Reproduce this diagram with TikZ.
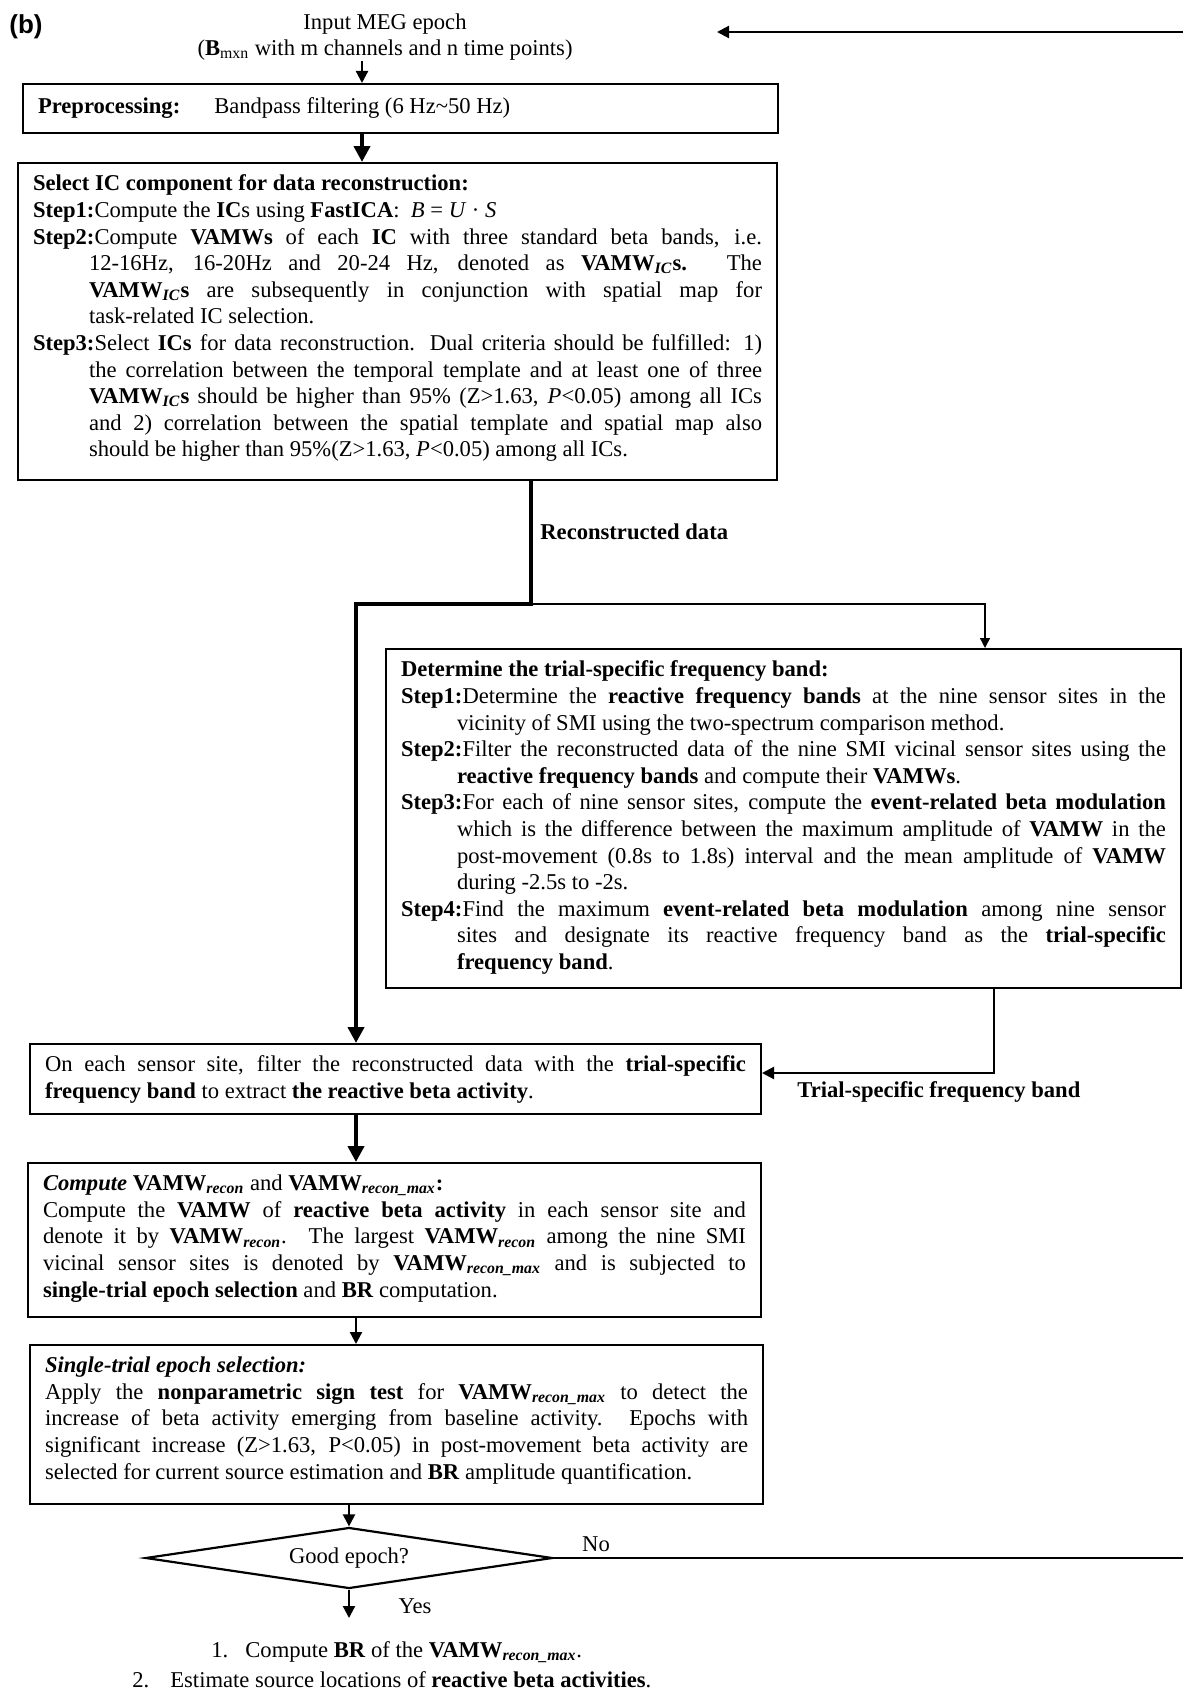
\documentclass[tikz,border=0pt]{standalone}
\usepackage{fontspec}
\setmainfont{Liberation Serif}
\newfontfamily\panelfont{Liberation Sans}
\usetikzlibrary{arrows.meta,shapes.geometric}

\newcommand{\vsub}[1]{\textsubscript{\textit{#1}}}
\newcommand{\stepname}[1]{\hangindent=28pt\hangafter=1 \textbf{Step#1:}}

\begin{document}
\begin{tikzpicture}[x=0.5pt,y=-0.5pt,
    every node/.style={font=\fontsize{11.3}{13.3}\selectfont},
    box/.style={draw,line width=1pt,anchor=north west,inner xsep=7.5pt,inner ysep=6pt},
    fat/.style={line width=2pt},
    mid/.style={line width=1.1pt},
    thin/.style={line width=0.7pt},
    fatarrow/.style={fat,-{Triangle[length=8pt,width=8pt]}},
    midarrow/.style={mid,-{Triangle[length=6pt,width=6pt]}},
    thinarrow/.style={thin,-{Triangle[length=5pt,width=5pt]}}]
  \useasboundingbox (0,0) rectangle (1183,1691);

  % columns of the vertical connectors
  \coordinate (colA) at (362,0);
  \coordinate (colB) at (356,0);
  \coordinate (colC) at (985,0);
  \coordinate (colD) at (994,0);
  \coordinate (split) at (531,604);

  \node[font=\panelfont\bfseries\fontsize{13}{15}\selectfont] (panel) at (26,27) {(b)};
  \node[anchor=north,align=center,inner sep=0pt] (input) at (385,13)
    {Input MEG epoch\\(\textbf{B}\textsubscript{mxn} with m channels and n time points)};

  \node[box] (pre) at (22,83) {\parbox[c][12.5pt][c]{362.5pt}{%
    \textbf{Preprocessing:}\hspace{17pt}Bandpass filtering (6 Hz\textasciitilde 50 Hz)}};

  \node[box] (ic) at (17,162) {\parbox[t][146.5pt][t]{364.5pt}{%
    \textbf{Select IC component for data reconstruction:}\par
    \stepname{1}Compute the \textbf{IC}s using \textbf{FastICA}:\enspace \textit{B} = \textit{U} · \textit{S}\par
    \stepname{2}Compute \textbf{VAMWs} of each \textbf{IC} with three standard beta bands, i.e.\linebreak
    12-16Hz, 16-20Hz and 20-24 Hz, denoted as \textbf{VAMW\vsub{IC}s.} The\linebreak
    \textbf{VAMW\vsub{IC}s} are subsequently in conjunction with spatial map for\linebreak
    task-related IC selection.\par
    \stepname{3}Select \textbf{ICs} for data reconstruction. Dual criteria should be fulfilled: 1)\linebreak
    the correlation between the temporal template and at least one of three\linebreak
    \textbf{VAMW\vsub{IC}s} should be higher than 95\% (Z>1.63, \textit{P}<0.05) among all ICs\linebreak
    and 2) correlation between the spatial template and spatial map also\linebreak
    should be higher than 95\%(Z>1.63, \textit{P}<0.05) among all ICs.}};

  \node[box] (det) at (385,648) {\parbox[t][157.5pt][t]{382.5pt}{%
    \textbf{Determine the trial-specific frequency band:}\par
    \stepname{1}Determine the \textbf{reactive frequency bands} at the nine sensor sites in the\linebreak
    vicinity of SMI using the two-spectrum comparison method.\par
    \stepname{2}Filter the reconstructed data of the nine SMI vicinal sensor sites using the\linebreak
    \textbf{reactive frequency bands} and compute their \textbf{VAMWs}.\par
    \stepname{3}For each of nine sensor sites, compute the \textbf{event-related beta modulation}\linebreak
    which is the difference between the maximum amplitude of \textbf{VAMW} in the\linebreak
    post-movement (0.8s to 1.8s) interval and the mean amplitude of \textbf{VAMW}\linebreak
    during -2.5s to -2s.\par
    \stepname{4}Find the maximum \textbf{event-related beta modulation} among nine sensor\linebreak
    sites and designate its reactive frequency band as the \textbf{trial-specific}\linebreak
    \textbf{frequency band}.}};

  \node[box] (oneach) at (29,1043) {\parbox[t][23pt][t]{350.5pt}{%
    On each sensor site, filter the reconstructed data with the \textbf{trial-specific}\linebreak
    \textbf{frequency band} to extract \textbf{the reactive beta activity}.}};

  \node[box] (comp) at (27,1162) {\parbox[t][65pt][t]{351.5pt}{%
    \textbf{\textit{Compute} VAMW\vsub{recon}} and \textbf{VAMW\vsub{recon\_max}:}\par
    Compute the \textbf{VAMW} of \textbf{reactive beta activity} in each sensor site and\linebreak
    denote it by \textbf{VAMW\vsub{recon}}. The largest \textbf{VAMW\vsub{recon}} among the nine SMI\linebreak
    vicinal sensor sites is denoted by \textbf{VAMW\vsub{recon\_max}} and is subjected to\linebreak
    \textbf{single-trial epoch selection} and \textbf{BR} computation.}};

  \node[box] (single) at (29,1344) {\parbox[t][67.5pt][t]{351.5pt}{%
    \textbf{\textit{Single-trial epoch selection:}}\par
    Apply the \textbf{nonparametric sign test} for \textbf{VAMW\vsub{recon\_max}} to detect the\linebreak
    increase of beta activity emerging from baseline activity. Epochs with\linebreak
    significant increase (Z>1.63, P<0.05) in post-movement beta activity are\linebreak
    selected for current source estimation and \textbf{BR} amplitude quantification.}};

  \node[draw,diamond,mid,aspect=6.67,minimum width=203.5pt,minimum height=30.5pt,inner sep=0pt] (good) at (349,1558) {Good epoch?};

  \node[anchor=base west,inner sep=0pt] (item1) at (211,1657)
    {\makebox[17pt][l]{1.}Compute \textbf{BR} of the \textbf{VAMW\vsub{recon\_max}}.};
  \node[anchor=base west,inner sep=0pt] (item2) at (132,1687)
    {\makebox[19pt][l]{2.}Estimate source locations of \textbf{reactive beta activities}.};

  % labels on the connectors
  \node[anchor=west,inner sep=0pt,font=\bfseries\fontsize{11.3}{13.3}\selectfont] (recon) at (540,532) {Reconstructed data};
  \node[anchor=base west,inner sep=0pt,font=\bfseries\fontsize{11.3}{13.3}\selectfont] (bandlabel) at (797,1097) {Trial-specific frequency band};
  \node (no) at (596,1544) {No};
  \node (yes) at (415,1606) {Yes};

  % loose ends of the loop back to the input
  \coordinate (loopin) at (1183,32);
  \coordinate (looptip) at (717,32);
  \coordinate (noend) at (1183,1558);
  \coordinate (yesend) at (349,1618);

  \draw[midarrow] (loopin) -- (looptip);
  \draw[midarrow] (input.south -| colA) -- (pre.north -| colA);
  \draw[fatarrow] (pre.south -| colA) -- (ic.north -| colA);
  \draw[fatarrow] (ic.south -| split) -- (split) -| (oneach.north -| colB);
  \draw[thinarrow] (split) -| (det.north -| colC);
  \draw[midarrow] (det.south -| colD) |- ([yshift=3pt]oneach.east);
  \draw[fatarrow] (oneach.south -| colB) -- (comp.north -| colB);
  \draw[midarrow] (comp.south -| colB) -- (single.north -| colB);
  \draw[midarrow] (single.south -| good) -- (good.north);
  \draw[mid] (good.east) -- (noend);
  \draw[midarrow] (good.south) -- (yesend);
\end{tikzpicture}
\end{document}
